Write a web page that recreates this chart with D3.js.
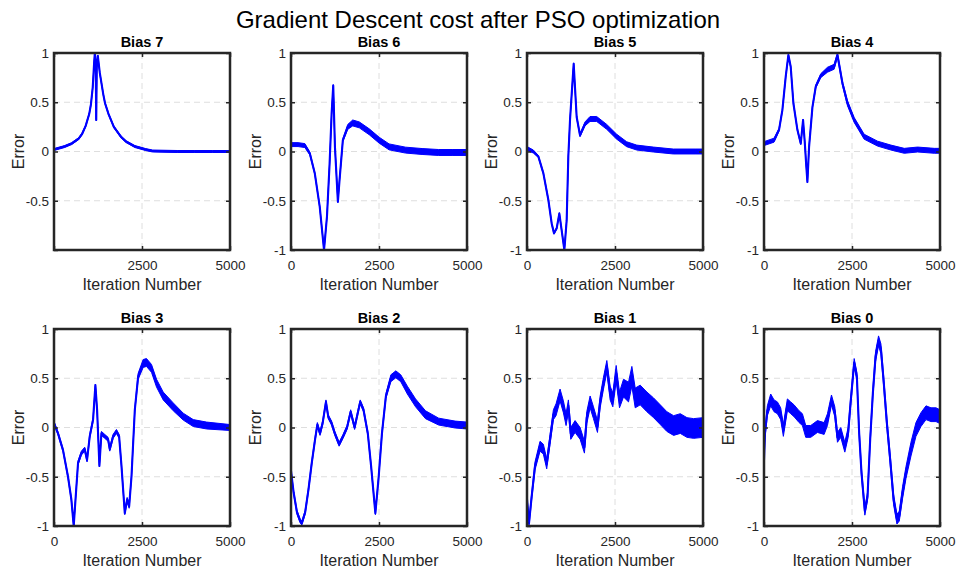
<!DOCTYPE html>
<html><head><meta charset="utf-8">
<script src="https://cdn.jsdelivr.net/npm/d3@7"></script>
<style>
body{margin:0;background:#fff;}
svg{display:block;font-family:"Liberation Sans",Arial,Helvetica,sans-serif;}
</style></head>
<body>
<script>
// ---------- DATA ----------
const chartTitle = "Gradient Descent cost after PSO optimization";
const panelTitles = ["Bias 7","Bias 6","Bias 5","Bias 4","Bias 3","Bias 2","Bias 1","Bias 0"];
const xTickLabels = [[2500,5000],[0,2500,5000],[0,2500,5000],[0,2500,5000],[0,2500,5000],[0,2500,5000],[0,2500,5000],[0,2500,5000]];
const yTickLabels = [[-0.5,0,0.5,1],[-1,-0.5,0,0.5,1],[-1,-0.5,0,0.5,1],[-1,-0.5,0,0.5,1],[-1,-0.5,0,0.5,1],[-1,-0.5,0,0.5,1],[-1,-0.5,0,0.5,1],[-1,-0.5,0,0.5,1]];
const xLabel = "Iteration Number";
const yLabel = "Error";

// iteration, error value, noise half-width
const bias7Iter = [0,300,500,700,800,900,1000,1050,1100,1140,1160,1185,1200,1215,1245,1300,1400,1450,1550,1700,1900,2050,2300,2600,2800,3500,4000,4500,5000];
const bias7Err  = [0.02,0.05,0.08,0.13,0.18,0.26,0.38,0.48,0.65,0.9,1.0,0.9,0.32,0.85,0.97,0.8,0.58,0.49,0.38,0.25,0.15,0.1,0.05,0.02,0.005,0,0,0,0];
const bias7Band = [0.01,0.01,0.01,0.01,0.01,0.01,0.01,0.01,0.01,0.01,0.01,0.01,0.01,0.01,0.01,0.01,0.01,0.01,0.01,0.01,0.01,0.01,0.01,0.01,0.01,0.01,0.01,0.01,0.01];

const bias6Iter = [0,200,394,535,675,816,938,1022,1097,1154,1200,1248,1332,1379,1473,1613,1754,1942,2223,2505,2786,3255,3724,4193,4600,5000];
const bias6Err  = [0.07,0.07,0.06,-0.02,-0.22,-0.56,-1.0,-0.66,-0.12,0.385,0.67,0.05,-0.51,-0.29,0.115,0.25,0.29,0.27,0.2,0.115,0.047,0.014,0,-0.01,-0.01,-0.01];
const bias6Band = [0.02,0.02,0.02,0.015,0.01,0.01,0.01,0.01,0.01,0.01,0.01,0.01,0.01,0.01,0.015,0.025,0.03,0.03,0.03,0.03,0.03,0.03,0.03,0.03,0.03,0.03];

const bias5Iter = [0,180,322,464,606,701,767,843,919,985,1061,1127,1174,1222,1326,1411,1506,1648,1790,1980,2265,2549,2831,3116,3589,4157,4800,5000];
const bias5Err  = [0.03,0.0,-0.05,-0.22,-0.49,-0.73,-0.83,-0.78,-0.63,-0.8,-1.0,-0.7,-0.05,0.32,0.89,0.35,0.165,0.28,0.33,0.33,0.25,0.15,0.074,0.04,0.02,0,0,0];
const bias5Band = [0.02,0.015,0.01,0.01,0.01,0.01,0.01,0.01,0.01,0.01,0.01,0.01,0.01,0.01,0.01,0.01,0.015,0.02,0.025,0.025,0.025,0.025,0.025,0.025,0.025,0.025,0.025,0.025];

const bias4Iter = [0,285,427,522,617,693,759,835,949,1044,1110,1157,1196,1233,1281,1376,1471,1613,1803,1992,2087,2230,2372,2562,2846,3226,3605,3985,4364,4838,5000];
const bias4Err  = [0.08,0.115,0.22,0.42,0.76,0.98,0.86,0.49,0.22,0.08,0.32,0.1,-0.12,-0.31,0.05,0.45,0.66,0.77,0.83,0.86,0.98,0.69,0.49,0.32,0.15,0.08,0.04,0.007,0.02,0.007,0.007];
const bias4Band = [0.02,0.02,0.015,0.01,0.01,0.01,0.01,0.01,0.01,0.01,0.01,0.01,0.01,0.01,0.01,0.01,0.015,0.02,0.025,0.025,0.02,0.02,0.025,0.025,0.025,0.025,0.025,0.025,0.025,0.025,0.025];

const bias3Iter = [0,114,256,398,493,560,617,683,778,873,939,1015,1110,1176,1224,1290,1347,1442,1537,1584,1679,1774,1850,1917,2011,2078,2135,2201,2296,2391,2533,2628,2770,2913,3102,3387,3672,3956,4336,5000];
const bias3Err  = [0.045,-0.06,-0.23,-0.5,-0.73,-1.0,-0.7,-0.36,-0.26,-0.22,-0.33,-0.09,0.08,0.43,0.18,-0.39,-0.06,-0.09,-0.12,-0.22,-0.09,-0.04,-0.09,-0.39,-0.87,-0.73,-0.8,-0.5,0.18,0.52,0.65,0.66,0.6,0.45,0.32,0.21,0.11,0.045,0.02,0.0];
const bias3Band = [0.015,0.015,0.015,0.015,0.015,0.01,0.015,0.02,0.02,0.02,0.02,0.02,0.02,0.01,0.01,0.01,0.02,0.02,0.02,0.02,0.02,0.02,0.02,0.015,0.015,0.02,0.02,0.015,0.015,0.03,0.04,0.04,0.04,0.04,0.04,0.04,0.035,0.035,0.035,0.03];

const bias2Iter = [0,75,169,262,309,403,496,590,684,749,824,899,993,1058,1152,1245,1367,1479,1592,1695,1807,1873,1966,2060,2182,2275,2397,2491,2584,2697,2837,2978,3118,3305,3539,3820,4195,4663,5000];
const bias2Err  = [-0.44,-0.66,-0.86,-0.95,-0.97,-0.86,-0.63,-0.36,-0.12,0.03,-0.06,0.045,0.26,0.11,0.045,-0.06,-0.17,-0.09,0,0.16,0,0.11,0.26,0.18,-0.06,-0.39,-0.87,-0.5,-0.06,0.32,0.5,0.54,0.5,0.38,0.25,0.13,0.06,0.03,0.02];
const bias2Band = [0.015,0.015,0.02,0.02,0.02,0.02,0.02,0.02,0.02,0.02,0.02,0.02,0.02,0.02,0.02,0.02,0.02,0.02,0.02,0.02,0.02,0.02,0.02,0.02,0.02,0.015,0.015,0.015,0.02,0.025,0.035,0.035,0.035,0.04,0.04,0.04,0.035,0.035,0.035];

const bias1Iter = [0,57,133,228,370,465,560,655,750,825,939,1034,1110,1176,1243,1366,1509,1632,1698,1793,1888,2002,2078,2173,2268,2362,2438,2533,2628,2742,2884,2979,3074,3216,3406,3596,3786,3975,4165,4355,4545,4734,5000];
const bias1Err  = [-0.73,-0.97,-0.7,-0.39,-0.19,-0.22,-0.37,-0.12,0.13,0.18,0.33,0.21,0.08,0.22,-0.06,0.01,-0.06,-0.2,0.1,0.26,0.15,0.01,0.26,0.45,0.62,0.35,0.28,0.55,0.28,0.4,0.36,0.52,0.3,0.33,0.26,0.2,0.13,0.06,0.02,0.04,0.0,-0.01,0.0];
const bias1Band = [0.03,0.03,0.03,0.04,0.05,0.05,0.05,0.05,0.05,0.06,0.06,0.06,0.06,0.06,0.06,0.06,0.06,0.06,0.06,0.06,0.06,0.06,0.06,0.06,0.06,0.07,0.07,0.08,0.08,0.09,0.1,0.1,0.1,0.1,0.1,0.1,0.1,0.1,0.1,0.1,0.1,0.1,0.1];

const bias0Iter = [0,28,95,190,285,380,474,550,664,759,854,996,1091,1186,1328,1518,1708,1803,1917,2011,2087,2182,2296,2391,2467,2562,2638,2704,2770,2865,2941,3017,3093,3169,3254,3321,3397,3491,3586,3681,3776,3843,3937,4032,4175,4317,4459,4602,4744,4886,5000];
const bias0Err  = [-0.33,-0.06,0.17,0.28,0.22,0.2,0.14,-0.03,0.23,0.2,0.17,0.11,0.08,-0.04,-0.04,0.01,-0.01,0.08,0.28,0.16,-0.1,-0.05,-0.2,-0.05,0.28,0.66,0.52,-0.06,-0.46,-0.85,-0.7,-0.12,0.35,0.72,0.88,0.8,0.48,0.045,-0.33,-0.73,-0.93,-0.9,-0.66,-0.46,-0.22,-0.02,0.08,0.15,0.13,0.13,0.11];
const bias0Band = [0.03,0.04,0.05,0.06,0.06,0.06,0.06,0.06,0.06,0.06,0.06,0.06,0.06,0.06,0.06,0.06,0.06,0.06,0.05,0.05,0.05,0.05,0.05,0.05,0.04,0.04,0.04,0.04,0.04,0.04,0.04,0.04,0.04,0.05,0.05,0.05,0.05,0.05,0.05,0.05,0.05,0.05,0.06,0.06,0.07,0.07,0.07,0.07,0.07,0.07,0.07];

const panelIters = [bias7Iter,bias6Iter,bias5Iter,bias4Iter,bias3Iter,bias2Iter,bias1Iter,bias0Iter];
const panelErrs  = [bias7Err,bias6Err,bias5Err,bias4Err,bias3Err,bias2Err,bias1Err,bias0Err];
const panelBands = [bias7Band,bias6Band,bias5Band,bias4Band,bias3Band,bias2Band,bias1Band,bias0Band];
const gridX = [2500];
const gridY = [-0.5,0,0.5];
const tickX = [0,2500,5000];
const tickY = [-1,-0.5,0,0.5,1];

// ---------- LAYOUT ----------
const W = 957, H = 570;
const colLeft = [54, 291, 527, 764];
const rowTop = [53, 329];
const pw = 176, ph = 197;
const axisColor = "#262626";
const FONT = '"Liberation Sans",Arial,Helvetica,sans-serif';

const svg = d3.select("body").append("svg").attr("width", W).attr("height", H);

svg.append("text").attr("x", 478).attr("y", 28).attr("text-anchor","middle")
  .attr("font-size", 24).attr("fill","#000").text(chartTitle);

const defs = svg.append("defs");

panelTitles.forEach((title, i) => {
  const r = Math.floor(i/4), c = i%4;
  const x0 = colLeft[c], y0 = rowTop[r];
  const g = svg.append("g").attr("transform", `translate(${x0},${y0})`);
  const x = d3.scaleLinear().domain([0,5000]).range([0,pw]);
  const y = d3.scaleLinear().domain([-1,1]).range([ph,0]);

  // grid
  g.selectAll(".gx").data(gridX).join("line")
    .attr("x1", d=>x(d)).attr("x2", d=>x(d)).attr("y1",0).attr("y2",ph)
    .attr("stroke","#dedede").attr("stroke-width",1).attr("stroke-dasharray","6,4");
  g.selectAll(".gy").data(gridY).join("line")
    .attr("y1", d=>y(d)).attr("y2", d=>y(d)).attr("x1",0).attr("x2",pw)
    .attr("stroke","#dedede").attr("stroke-width",1).attr("stroke-dasharray","6,4");

  // clip
  const cid = "clip"+i;
  defs.append("clipPath").attr("id",cid).append("rect").attr("x",0).attr("y",0).attr("width",pw).attr("height",ph);

  const pts = panelIters[i].map((it,k)=>({it, v:panelErrs[i][k], b:panelBands[i][k]}));
  const area = d3.area().x(d=>x(d.it)).y0(d=>y(d.v - d.b)).y1(d=>y(d.v + d.b));
  const line = d3.line().x(d=>x(d.it)).y(d=>y(d.v));
  const pg = g.append("g").attr("clip-path",`url(#${cid})`);
  pg.append("path").datum(pts).attr("d", area).attr("fill","#0000ff").attr("stroke","#0000ff").attr("stroke-width",1);
  pg.append("path").datum(pts).attr("d", line).attr("fill","none").attr("stroke","#0000ff").attr("stroke-width",2.1).attr("stroke-linejoin","round");

  // axes with inner ticks
  const ax = d3.axisBottom(x).tickValues(tickX).tickSize(-4).tickPadding(10)
    .tickFormat(d => xTickLabels[i].includes(d) ? d3.format("d")(d) : "");
  const ay = d3.axisLeft(y).tickValues(tickY).tickSize(-4).tickPadding(5)
    .tickFormat(d => yTickLabels[i].includes(d) ? String(d) : "");
  const axT = d3.axisTop(x).tickValues(tickX).tickSize(-4).tickFormat("");
  const ayR = d3.axisRight(y).tickValues(tickY).tickSize(-4).tickFormat("");

  const styleAxis = sel => {
    sel.select(".domain").remove();
    sel.selectAll("line").attr("stroke", axisColor).attr("stroke-width",1.5);
    sel.selectAll("text").attr("fill", axisColor).attr("font-size",13.5).attr("font-family",FONT);
  };
  g.append("g").attr("transform",`translate(0,${ph})`).call(ax).call(styleAxis);
  g.append("g").call(ay).call(styleAxis);
  g.append("g").call(axT).call(styleAxis);
  g.append("g").attr("transform",`translate(${pw},0)`).call(ayR).call(styleAxis);

  // frame
  g.append("rect").attr("x",0).attr("y",0).attr("width",pw).attr("height",ph)
    .attr("fill","none").attr("stroke",axisColor).attr("stroke-width",2.5);

  // titles and labels
  g.append("text").attr("x", pw/2).attr("y", -6).attr("text-anchor","middle")
    .attr("font-size",14.5).attr("font-weight","bold").attr("fill","#000").text(title);
  g.append("text").attr("x", pw/2).attr("y", ph+40).attr("text-anchor","middle")
    .attr("font-size",16).attr("fill",axisColor).text(xLabel);
  g.append("text").attr("transform",`translate(-30,${ph/2}) rotate(-90)`).attr("text-anchor","middle")
    .attr("font-size",16).attr("fill",axisColor).text(yLabel);
});
</script>
</body></html>
